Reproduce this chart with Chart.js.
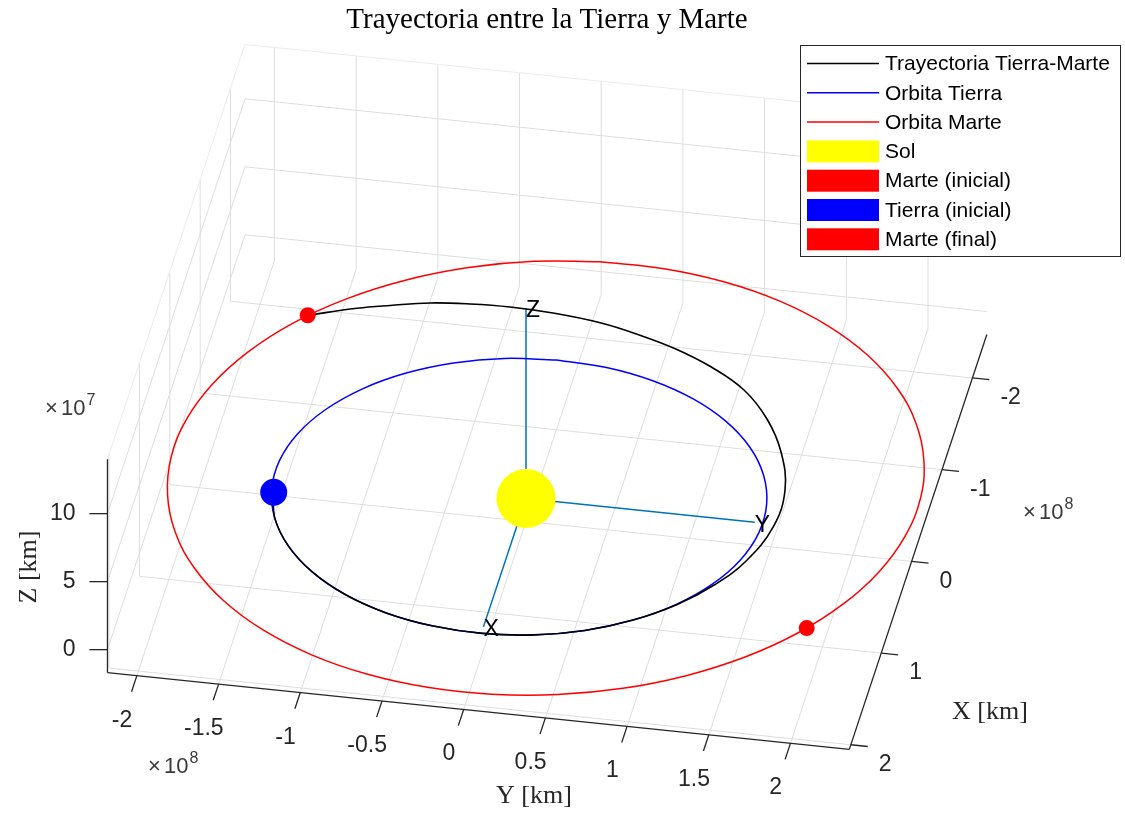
<!DOCTYPE html>
<html lang="es">
<head>
<meta charset="utf-8">
<title>Trayectoria entre la Tierra y Marte</title>
<script src="https://cdn.jsdelivr.net/npm/chart.js@4.4.1/dist/chart.umd.min.js"></script>
<style>
  html, body { margin: 0; padding: 0; background: #fff; }
  #wrap { width: 1125px; height: 814px; }
</style>
</head>
<body>
<div id="wrap"><canvas id="orbitChart" width="1125" height="814"></canvas></div>
<script>
// Orbit data, units of 1e8 km (all curves lie in the plane z = 0)

// Mars orbit (red)
const marsOrbitX = [-2.577, -2.509, -2.372, -2.170, -1.909, -1.598, -1.245, -0.862, -0.459, -0.050, 0.353,
  0.739, 1.094, 1.410, 1.675, 1.882, 2.024, 2.098, 2.101, 2.033, 1.896, 1.694, 1.433, 1.122, 0.769, 0.386,
  -0.017, -0.426, -0.829, -1.214, -1.570, -1.885, -2.150, -2.358, -2.500, -2.574];
const marsOrbitY = [-0.028, -0.418, -0.793, -1.142, -1.454, -1.720, -1.930, -2.080, -2.165, -2.181, -2.128,
  -2.009, -1.826, -1.586, -1.295, -0.962, -0.598, -0.213, 0.180, 0.571, 0.946, 1.295, 1.607, 1.872, 2.083,
  2.233, 2.317, 2.334, 2.281, 2.162, 1.979, 1.739, 1.448, 1.115, 0.751, 0.366];

// Earth orbit (blue)
const earthOrbitX = [-1.493, -1.453, -1.350, -1.188, -0.975, -0.720, -0.434, -0.130, 0.180, 0.481, 0.761,
  1.007, 1.209, 1.357, 1.445, 1.470, 1.430, 1.327, 1.165, 0.952, 0.697, 0.411, 0.106, -0.203, -0.505, -0.785,
  -1.031, -1.232, -1.380, -1.469];
const earthOrbitY = [-0.092, -0.402, -0.695, -0.960, -1.185, -1.360, -1.478, -1.533, -1.523, -1.448, -1.312,
  -1.121, -0.882, -0.607, -0.307, 0.004, 0.313, 0.607, 0.872, 1.097, 1.272, 1.390, 1.445, 1.435, 1.360, 1.224,
  1.032, 0.794, 0.519, 0.219];

// Transfer trajectory (black), from Earth (inicial) to Mars (final)
const trajX = [0.209, 0.481, 0.761, 1.007, 1.209, 1.357, 1.445, 1.470, 1.430, 1.327, 1.165, 0.956, 0.704,
  0.422, 0.028, -0.372, -0.768, -1.101, -1.382, -1.588, -1.740, -1.850, -1.934, -1.985, -2.002, -1.990,
  -1.957, -1.887, -1.821, -1.694];
const trajY = [-1.505, -1.448, -1.312, -1.121, -0.882, -0.607, -0.307, 0.004, 0.313, 0.607, 0.872, 1.100,
  1.285, 1.424, 1.519, 1.516, 1.418, 1.270, 1.077, 0.839, 0.593, 0.344, 0.094, -0.204, -0.470, -0.713,
  -0.952, -1.183, -1.373, -1.651];

// Bodies [x, y, z]
const sunPos = [0, 0, 0];
const marsStart = [1.06, 1.915, 0];
const earthStart = [0.209, -1.505, 0];
const marsEnd = [-1.694, -1.651, 0];

// Reference axes drawn from the Sun
const refAxisLength = 1.4;

// Axes limits and ticks
const xLim = [-2.474, 2.05];
const yLim = [-2.18, 2.36];
const zLim = [-0.169, 1.4];
const xTicks = [-2, -1, 0, 1, 2];
const yTicks = [-2, -1.5, -1, -0.5, 0, 0.5, 1, 1.5, 2];
const zTicks = [0, 0.5, 1];
const xTickLabels = ['-2', '-1', '0', '1', '2'];
const yTickLabels = ['-2', '-1.5', '-1', '-0.5', '0', '0.5', '1', '1.5', '2'];
const zTickLabels = ['0', '5', '10'];

// ---- view (orthographic projection, screen pixels per 1e8 km) ----
const VIEW = { ox: 526, oy: 498.5, ex: [-30.4, 91.7], ey: [163.4, 16.9], ez: [0, -136] };

function project(x, y, z) {
  return {
    x: VIEW.ox + x * VIEW.ex[0] + y * VIEW.ey[0] + z * VIEW.ez[0],
    y: VIEW.oy + x * VIEW.ex[1] + y * VIEW.ey[1] + z * VIEW.ez[1]
  };
}

function curve(xs, ys, closed) {
  const pts = xs.map((x, i) => project(x, ys[i], 0));
  if (closed) pts.push(pts[0]);
  return pts;
}

function unit(v) {
  const n = Math.hypot(v[0], v[1]);
  return [v[0] / n, v[1] / n];
}

const SANS = '"Liberation Sans", Arial, Helvetica, sans-serif';
const SERIF = '"Liberation Serif", "Times New Roman", serif';
const AXIS_COLOR = '#262626';
const GRID_COLOR = '#dedede';
const EDGE_COLOR = '#ececec';
const REF_COLOR = '#0072bd';

const lineSet = (label, pts, color, width, order) => ({
  label, data: pts, showLine: true, borderColor: color, borderWidth: width,
  pointRadius: 0, tension: 0.4, fill: false, order, legendStyle: 'line'
});
const dotSet = (label, pos, color, radius, order) => ({
  label, data: [project(...pos)], showLine: false, pointRadius: radius,
  pointBackgroundColor: color, pointBorderWidth: 0, order, legendStyle: 'patch'
});
const refSet = (end) => ({
  data: [project(...sunPos), project(...end)], showLine: true, borderColor: REF_COLOR,
  borderWidth: 1.5, pointRadius: 0, tension: 0, order: 9, legendStyle: null
});

// ---- box, grid, ticks and labels ----
const boxPlugin = {
  id: 'box3d',
  beforeDatasetsDraw(chart) {
    const ctx = chart.ctx;
    const [x0, x1] = xLim, [y0, y1] = yLim, [z0, z1] = zLim;
    const seg = (a, b) => {
      const p = project(...a), q = project(...b);
      ctx.beginPath(); ctx.moveTo(p.x, p.y); ctx.lineTo(q.x, q.y); ctx.stroke();
    };
    ctx.save();

    // grid on the back planes
    ctx.lineWidth = 1;
    ctx.strokeStyle = GRID_COLOR;
    yTicks.forEach(v => { seg([x0, v, z0], [x1, v, z0]); seg([x0, v, z0], [x0, v, z1]); });
    xTicks.forEach(v => { seg([v, y0, z0], [v, y1, z0]); seg([v, y0, z0], [v, y0, z1]); });
    zTicks.forEach(v => { seg([x0, y0, v], [x0, y1, v]); seg([x0, y0, v], [x1, y0, v]); });
    ctx.strokeStyle = EDGE_COLOR;
    seg([x0, y0, z1], [x0, y1, z1]);
    seg([x0, y0, z1], [x1, y0, z1]);

    // axis lines
    ctx.strokeStyle = AXIS_COLOR;
    ctx.lineWidth = 1.3;
    seg([x1, y0, z0], [x1, y0, z1]);
    seg([x1, y0, z0], [x1, y1, z0]);
    seg([x0, y1, z0], [x1, y1, z0]);

    ctx.fillStyle = AXIS_COLOR;
    ctx.font = '23px ' + SANS;

    // Y ticks (front edge), pointing towards +X
    const ux = unit(VIEW.ex);
    ctx.textAlign = 'center';
    ctx.textBaseline = 'middle';
    yTicks.forEach((v, i) => {
      const p = project(x1, v, z0);
      ctx.beginPath(); ctx.moveTo(p.x, p.y); ctx.lineTo(p.x + ux[0] * 17, p.y + ux[1] * 17); ctx.stroke();
      ctx.fillText(yTickLabels[i], p.x + ux[0] * 47, p.y + ux[1] * 47);
    });

    // X ticks (right edge), pointing towards +Y
    const uy = unit(VIEW.ey);
    ctx.textAlign = 'left';
    xTicks.forEach((v, i) => {
      const p = project(v, y1, z0);
      ctx.beginPath(); ctx.moveTo(p.x, p.y); ctx.lineTo(p.x + uy[0] * 17, p.y + uy[1] * 17); ctx.stroke();
      ctx.fillText(xTickLabels[i], p.x + 28, p.y + 20);
    });

    // Z ticks (front-left edge)
    ctx.textAlign = 'right';
    zTicks.forEach((v, i) => {
      const p = project(x1, y0, v);
      ctx.beginPath(); ctx.moveTo(p.x, p.y); ctx.lineTo(p.x - 18, p.y); ctx.stroke();
      ctx.fillText(zTickLabels[i], p.x - 32, p.y);
    });

    // exponent labels
    const expLabel = (x, y, exp) => {
      ctx.textAlign = 'left';
      ctx.textBaseline = 'alphabetic';
      ctx.fillStyle = '#3a3a3a';
      ctx.font = '22px ' + SANS;
      ctx.fillText('\u00d7', x, y);
      ctx.fillText('10', x + 16, y);
      const w = ctx.measureText('10').width;
      ctx.font = '16px ' + SANS;
      ctx.fillText(exp, x + 16 + w + 1, y - 10);
    };
    expLabel(45, 415, '7');
    expLabel(148, 773, '8');
    expLabel(1023, 519, '8');

    // axis titles
    ctx.fillStyle = AXIS_COLOR;
    ctx.font = '26px ' + SERIF;
    ctx.textAlign = 'center';
    ctx.textBaseline = 'middle';
    ctx.fillText('Y [km]', 534, 796);
    ctx.fillText('X [km]', 990, 712);
    ctx.save();
    ctx.translate(29, 567);
    ctx.rotate(-Math.PI / 2);
    ctx.fillText('Z [km]', 0, 0);
    ctx.restore();

    // title
    ctx.fillStyle = '#000';
    ctx.font = '29px ' + SERIF;
    ctx.textBaseline = 'alphabetic';
    ctx.fillText('Trayectoria entre la Tierra y Marte', 547, 28);

    ctx.restore();
  },

  afterDatasetsDraw(chart) {
    const ctx = chart.ctx;
    ctx.save();

    // labels at the end of the reference axes
    ctx.fillStyle = '#000';
    ctx.font = '23px ' + SANS;
    ctx.textAlign = 'left';
    ctx.textBaseline = 'middle';
    [['X', [refAxisLength, 0, 0]], ['Y', [0, refAxisLength, 0]], ['Z', [0, 0, refAxisLength]]].forEach(([t, pos]) => {
      const p = project(...pos);
      ctx.fillText(t, p.x, p.y + 3);
    });

    // legend
    const box = { left: 800.5, top: 45.5, right: 1120.5, bottom: 256.5 };
    ctx.fillStyle = '#fff';
    ctx.fillRect(box.left, box.top, box.right - box.left, box.bottom - box.top);
    ctx.strokeStyle = AXIS_COLOR;
    ctx.lineWidth = 1;
    ctx.strokeRect(box.left, box.top, box.right - box.left, box.bottom - box.top);

    const items = chart.data.datasets.filter(d => d.legendStyle);
    ctx.font = '21px ' + SANS;
    ctx.textAlign = 'left';
    ctx.textBaseline = 'middle';
    items.forEach((d, i) => {
      const y = 63.5 + i * 29.3;
      if (d.legendStyle === 'line') {
        ctx.strokeStyle = d.borderColor;
        ctx.lineWidth = 1.5;
        ctx.beginPath(); ctx.moveTo(807, y); ctx.lineTo(879, y); ctx.stroke();
      } else {
        ctx.fillStyle = d.pointBackgroundColor;
        ctx.fillRect(807, y - 11, 72, 22);
      }
      ctx.fillStyle = '#000';
      ctx.fillText(d.label, 885, y + 1);
    });

    ctx.restore();
  }
};

new Chart(document.getElementById('orbitChart'), {
  type: 'scatter',
  data: {
    datasets: [
      lineSet('Trayectoria Tierra-Marte', curve(trajX, trajY, false), '#000000', 1.6, 4),
      lineSet('Orbita Tierra', curve(earthOrbitX, earthOrbitY, true), '#0000ff', 1.5, 5),
      lineSet('Orbita Marte', curve(marsOrbitX, marsOrbitY, true), '#ff0000', 1.5, 6),
      dotSet('Sol', sunPos, '#ffff00', 29.5, 2),
      dotSet('Marte (inicial)', marsStart, '#ff0000', 8, 1),
      dotSet('Tierra (inicial)', earthStart, '#0000ff', 13.5, 1),
      dotSet('Marte (final)', marsEnd, '#ff0000', 8, 1),
      refSet([refAxisLength, 0, 0]),
      refSet([0, refAxisLength, 0]),
      refSet([0, 0, refAxisLength])
    ]
  },
  options: {
    responsive: false,
    animation: false,
    devicePixelRatio: 1,
    events: [],
    layout: { padding: 0, autoPadding: false },
    plugins: {
      legend: { display: false },
      tooltip: { enabled: false },
      title: { display: false }
    },
    scales: {
      x: { type: 'linear', min: 0, max: 1125, display: false },
      y: { type: 'linear', min: 0, max: 814, reverse: true, display: false }
    }
  },
  plugins: [boxPlugin]
});
</script>
</body>
</html>
